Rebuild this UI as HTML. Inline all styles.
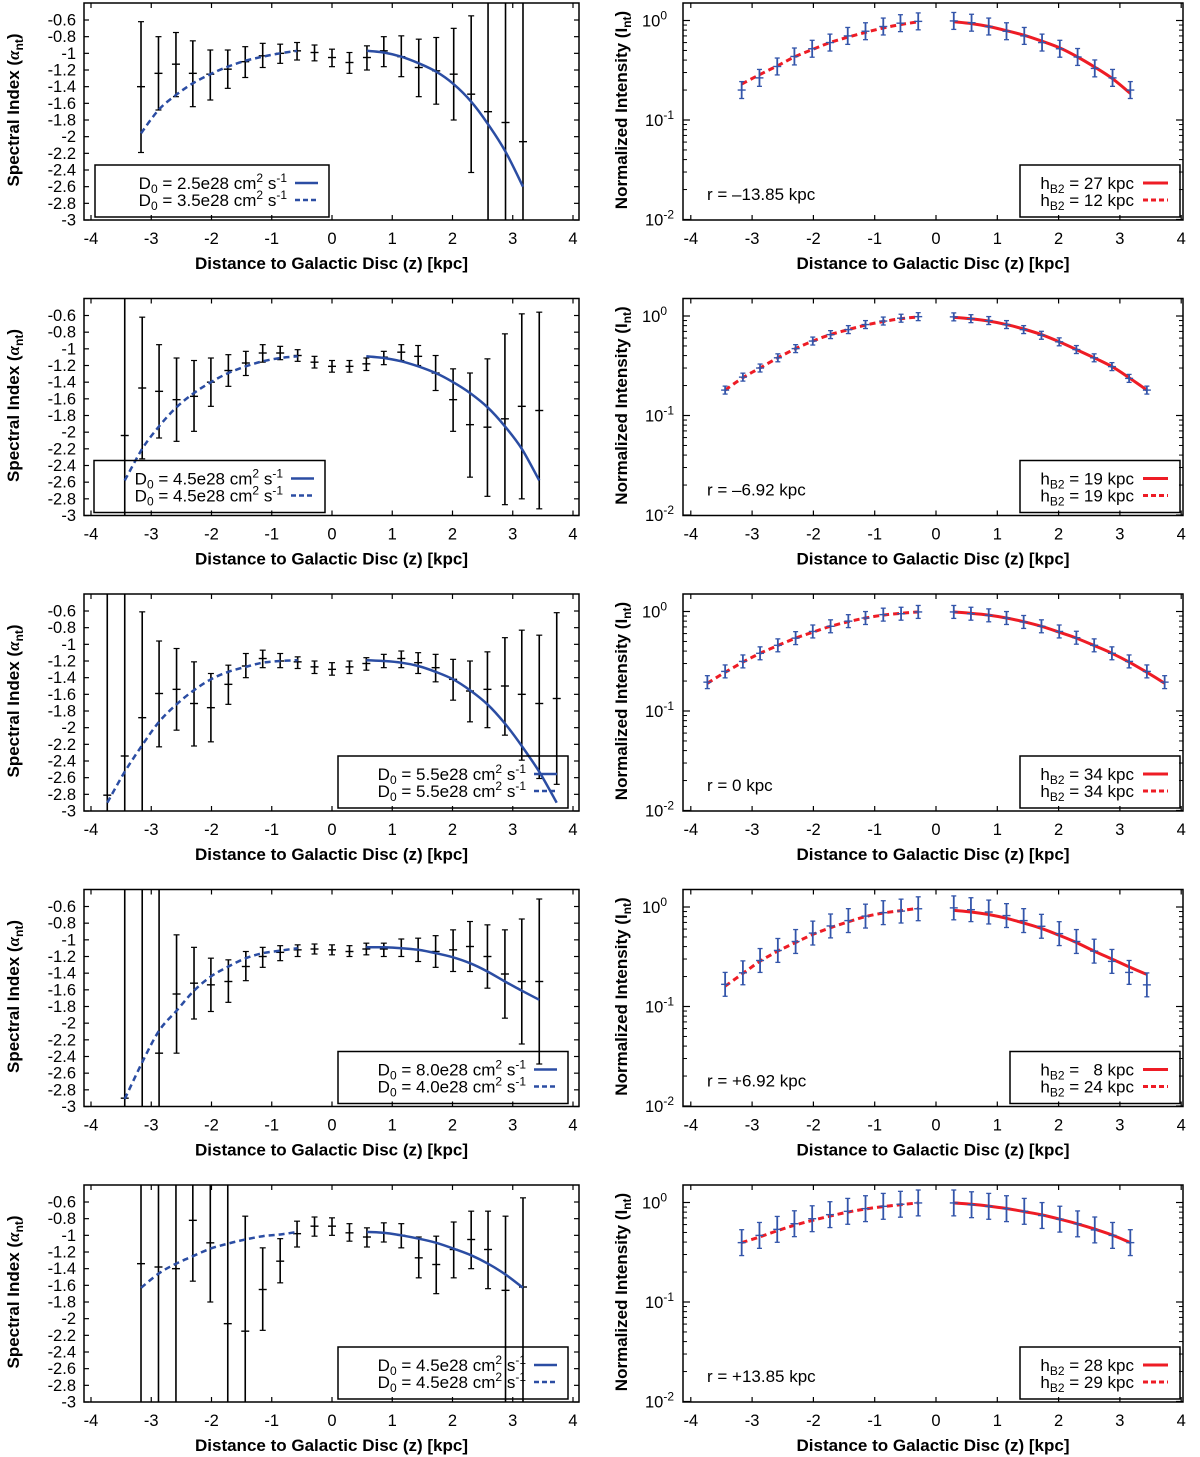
<!DOCTYPE html>
<html><head><meta charset="utf-8"><style>
html,body{margin:0;padding:0;background:#fff;}
svg{display:block;font-family:"Liberation Sans",sans-serif;}
</style></head><body>
<svg id="fig" width="1200" height="1457" viewBox="0 0 1200 1457" xmlns="http://www.w3.org/2000/svg"></svg>
<script>
// ---------- data ----------
const zL23 = [-3.17,-2.88,-2.59,-2.31,-2.02,-1.73,-1.44,-1.15,-0.86,-0.58,-0.29,0,0.29,0.58,0.86,1.15,1.44,1.73,2.02,2.31,2.59,2.88,3.17];
const zL25 = [-3.44,-3.15,-2.87,-2.58,-2.29,-2.01,-1.72,-1.43,-1.15,-0.86,-0.57,-0.29,0,0.29,0.57,0.86,1.15,1.43,1.72,2.01,2.29,2.58,2.87,3.15,3.44];
const zL27 = [-3.73,-3.44,-3.15,-2.87,-2.58,-2.29,-2.01,-1.72,-1.43,-1.15,-0.86,-0.57,-0.29,0,0.29,0.57,0.86,1.15,1.43,1.72,2.01,2.29,2.58,2.87,3.15,3.44,3.73];
const fitNeg10 = [-3.17,-2.88,-2.59,-2.31,-2.02,-1.73,-1.44,-1.15,-0.86,-0.58];
const fitPos10 = [0.58,0.86,1.15,1.44,1.73,2.02,2.31,2.59,2.88,3.17];
const fitNeg11 = [-3.44,-3.15,-2.87,-2.58,-2.29,-2.01,-1.72,-1.43,-1.15,-0.86,-0.57];
const fitPos11 = [0.57,0.86,1.15,1.43,1.72,2.01,2.29,2.58,2.87,3.15,3.44];
const fitNeg12 = [-3.73,-3.44,-3.15,-2.87,-2.58,-2.29,-2.01,-1.72,-1.43,-1.15,-0.86,-0.57];
const fitPos12 = [0.57,0.86,1.15,1.43,1.72,2.01,2.29,2.58,2.87,3.15,3.44,3.73];

const a1 = [-1.40,-1.24,-1.13,-1.24,-1.25,-1.19,-1.10,-1.03,-1.00,-0.97,-0.99,-1.05,-1.11,-1.05,-0.97,-1.04,-1.17,-1.21,-1.25,-1.49,-1.70,-1.83,-2.06];
const a1hi = [-0.62,-0.80,-0.75,-0.85,-0.96,-0.96,-0.92,-0.88,-0.89,-0.87,-0.90,-0.95,-0.99,-0.91,-0.80,-0.79,-0.83,-0.81,-0.70,-0.55,-0.3,-0.3,-0.3];
const a1lo = [-2.19,-1.68,-1.52,-1.64,-1.56,-1.42,-1.29,-1.17,-1.12,-1.08,-1.09,-1.16,-1.24,-1.20,-1.16,-1.28,-1.52,-1.61,-1.80,-2.43,-3.3,-3.3,-3.3];
const a1dash = [-1.96,-1.68,-1.50,-1.36,-1.25,-1.16,-1.09,-1.04,-1.00,-0.97];
const a1solid = [-0.97,-0.99,-1.04,-1.12,-1.22,-1.37,-1.58,-1.85,-2.18,-2.60];

const a2 = [-2.04,-1.47,-1.51,-1.61,-1.57,-1.40,-1.26,-1.17,-1.05,-1.05,-1.08,-1.16,-1.21,-1.21,-1.18,-1.10,-1.04,-1.09,-1.29,-1.61,-1.91,-1.94,-1.84,-1.69,-1.74];
const a2hi = [-0.3,-0.62,-0.95,-1.11,-1.14,-1.11,-1.07,-1.03,-0.95,-0.97,-1.01,-1.09,-1.14,-1.14,-1.11,-1.03,-0.95,-0.96,-1.08,-1.24,-1.29,-1.12,-0.82,-0.58,-0.56];
const a2lo = [-3.3,-2.32,-2.07,-2.11,-1.99,-1.69,-1.45,-1.32,-1.16,-1.13,-1.15,-1.23,-1.28,-1.28,-1.26,-1.19,-1.14,-1.20,-1.50,-1.99,-2.54,-2.77,-2.87,-2.80,-2.92];
const a2dash = [-2.58,-2.20,-1.93,-1.70,-1.53,-1.40,-1.29,-1.21,-1.15,-1.11,-1.09];
const a2solid = [-1.09,-1.11,-1.15,-1.21,-1.29,-1.40,-1.53,-1.70,-1.93,-2.20,-2.58];

const a3 = [-2.81,-2.34,-1.88,-1.59,-1.54,-1.71,-1.76,-1.48,-1.26,-1.17,-1.20,-1.21,-1.27,-1.30,-1.27,-1.23,-1.20,-1.17,-1.22,-1.28,-1.42,-1.56,-1.54,-1.50,-1.60,-1.71,-1.65];
const a3hi = [-0.3,-0.3,-0.61,-0.96,-1.05,-1.21,-1.35,-1.25,-1.11,-1.07,-1.11,-1.15,-1.20,-1.22,-1.20,-1.16,-1.12,-1.08,-1.10,-1.12,-1.18,-1.20,-1.09,-0.92,-0.83,-0.89,-0.62];
const a3lo = [-3.3,-3.3,-3.3,-2.23,-2.03,-2.22,-2.17,-1.72,-1.40,-1.28,-1.28,-1.29,-1.35,-1.37,-1.35,-1.31,-1.28,-1.28,-1.35,-1.45,-1.67,-1.93,-2.00,-2.09,-2.39,-2.61,-2.68];
const a3dash = [-2.90,-2.53,-2.21,-1.93,-1.72,-1.55,-1.42,-1.33,-1.27,-1.22,-1.20,-1.19];
const a3solid = [-1.19,-1.20,-1.22,-1.26,-1.33,-1.42,-1.55,-1.72,-1.95,-2.22,-2.53,-2.90];

const a4 = [-2.90,-3.1,-2.36,-1.65,-1.52,-1.54,-1.50,-1.32,-1.20,-1.15,-1.12,-1.11,-1.12,-1.14,-1.11,-1.11,-1.10,-1.12,-1.14,-1.12,-1.08,-1.20,-1.41,-1.50,-1.50];
const a4hi = [-0.3,-0.3,-0.3,-0.94,-1.09,-1.22,-1.24,-1.14,-1.09,-1.07,-1.06,-1.05,-1.06,-1.07,-1.04,-1.04,-0.99,-0.98,-0.95,-0.88,-0.78,-0.82,-0.88,-0.75,-0.51];
const a4lo = [-3.3,-3.3,-3.3,-2.36,-1.95,-1.86,-1.75,-1.49,-1.33,-1.25,-1.20,-1.17,-1.18,-1.20,-1.18,-1.20,-1.20,-1.26,-1.33,-1.38,-1.38,-1.58,-1.94,-2.25,-2.49];
const a4dash = [-2.91,-2.47,-2.09,-1.85,-1.61,-1.44,-1.32,-1.22,-1.16,-1.13,-1.10];
const a4solid = [-1.09,-1.09,-1.10,-1.12,-1.16,-1.21,-1.28,-1.38,-1.50,-1.61,-1.72];

const a5 = [-1.34,-1.38,-1.40,-0.82,-1.09,-2.06,-2.15,-1.65,-1.31,-0.98,-0.89,-0.89,-0.97,-1.02,-0.97,-1.00,-1.27,-1.35,-1.17,-1.05,-1.17,-1.66,-1.62];
const a5hi = [-0.3,-0.3,-0.3,-0.3,-0.3,-0.3,-0.77,-1.15,-1.04,-0.83,-0.78,-0.79,-0.86,-0.91,-0.85,-0.86,-1.02,-1.01,-0.84,-0.71,-0.71,-0.77,-0.55];
const a5lo = [-3.3,-3.3,-3.3,-1.55,-1.80,-3.3,-3.3,-2.14,-1.57,-1.14,-1.01,-1.00,-1.07,-1.14,-1.08,-1.15,-1.51,-1.70,-1.51,-1.40,-1.64,-3.3,-3.3];
const a5dash = [-1.63,-1.46,-1.34,-1.25,-1.16,-1.10,-1.05,-1.01,-0.99,-0.96];
const a5solid = [-0.96,-0.97,-1.00,-1.04,-1.09,-1.16,-1.24,-1.34,-1.47,-1.63];

const zR11n = [-3.17,-2.88,-2.59,-2.31,-2.02,-1.73,-1.44,-1.15,-0.86,-0.58,-0.29];
const zR11p = [0.29,0.58,0.86,1.15,1.44,1.73,2.02,2.31,2.59,2.88,3.17];
const zR12n = [-3.44,-3.15,-2.87,-2.58,-2.29,-2.01,-1.72,-1.43,-1.15,-0.86,-0.57,-0.29];
const zR12p = [0.29,0.57,0.86,1.15,1.43,1.72,2.01,2.29,2.58,2.87,3.15,3.44];
const zR13n = [-3.73,-3.44,-3.15,-2.87,-2.58,-2.29,-2.01,-1.72,-1.43,-1.15,-0.86,-0.57,-0.29];
const zR13p = [0.29,0.57,0.86,1.15,1.43,1.72,2.01,2.29,2.58,2.87,3.15,3.44,3.73];

const i1n = [0.20,0.265,0.345,0.435,0.52,0.60,0.70,0.78,0.87,0.94,0.98];
const i1p = [0.99,0.95,0.87,0.78,0.70,0.60,0.52,0.43,0.33,0.265,0.20];
const i1fitn = [0.23,0.285,0.35,0.43,0.51,0.60,0.68,0.76,0.84,0.91,0.97];
const i1fitp = [0.97,0.93,0.87,0.79,0.71,0.62,0.53,0.43,0.34,0.26,0.185];
const i2n = [0.18,0.243,0.30,0.38,0.47,0.56,0.65,0.73,0.82,0.89,0.95,0.985];
const i2p = [0.98,0.94,0.90,0.82,0.73,0.64,0.55,0.46,0.38,0.31,0.236,0.18];
const i2fitn = [0.18,0.24,0.30,0.38,0.47,0.56,0.65,0.73,0.81,0.88,0.94,0.98];
const i2fitp = [0.97,0.94,0.89,0.82,0.74,0.65,0.55,0.46,0.38,0.31,0.24,0.18];
const i3n = [0.195,0.25,0.315,0.38,0.457,0.54,0.63,0.71,0.80,0.86,0.93,0.95,0.99];
const i3p = [0.99,0.95,0.915,0.86,0.785,0.71,0.63,0.545,0.457,0.38,0.315,0.25,0.195];
const i3fitn = [0.19,0.245,0.31,0.38,0.455,0.54,0.62,0.71,0.79,0.86,0.92,0.96,0.99];
const i3fitp = [0.99,0.96,0.92,0.86,0.79,0.71,0.62,0.54,0.455,0.38,0.31,0.245,0.19];
const i4n = [0.167,0.218,0.29,0.366,0.45,0.547,0.645,0.73,0.81,0.877,0.91,0.96];
const i4p = [0.98,0.94,0.89,0.82,0.73,0.64,0.54,0.45,0.36,0.284,0.22,0.165];
const i4fitn = [0.16,0.215,0.285,0.36,0.44,0.53,0.62,0.71,0.80,0.87,0.92,0.97];
const i4fitp = [0.925,0.89,0.84,0.77,0.69,0.61,0.52,0.44,0.36,0.30,0.25,0.21];
const i5n = [0.395,0.467,0.537,0.612,0.687,0.755,0.815,0.867,0.915,0.96,0.99];
const i5p = [0.99,0.95,0.915,0.867,0.815,0.74,0.68,0.61,0.53,0.467,0.395];
const i5fitn = [0.395,0.45,0.52,0.59,0.66,0.73,0.80,0.86,0.91,0.95,0.99];
const i5fitp = [0.99,0.96,0.92,0.87,0.81,0.75,0.68,0.61,0.54,0.47,0.395];
const iErrDex = [0.085,0.04,0.065,0.12,0.13];

const leftTickLabels = ["-0.6","-0.8","-1","-1.2","-1.4","-1.6","-1.8","-2","-2.2","-2.4","-2.6","-2.8","-3"];
const leftTickValues = [-0.6,-0.8,-1,-1.2,-1.4,-1.6,-1.8,-2,-2.2,-2.4,-2.6,-2.8,-3];
const xTickValues = [-4,-3,-2,-1,0,1,2,3,4];
const leftLegend1 = ["2.5e28","4.5e28","5.5e28","8.0e28","4.5e28"];
const leftLegend2 = ["3.5e28","4.5e28","5.5e28","4.0e28","4.5e28"];
const rightLegend1 = ["27","19","34","\u00a0\u00a08","28"];
const rightLegend2 = ["12","19","34","24","29"];
const rLabels = ["r = \u201313.85 kpc","r = \u20136.92 kpc","r = 0 kpc","r = +6.92 kpc","r = +13.85 kpc"];

// ---------- drawing ----------
const NS = "http://www.w3.org/2000/svg";
const svg = document.getElementById("fig");
const ROW = 295.5;
const TICKFS = 16.5, LEGFS = 17, TITLEFS = 17, SUBFS = 12;
function mk(tag, attrs, parent){ const e=document.createElementNS(NS,tag); for(const k in attrs) e.setAttribute(k,attrs[k]); (parent||svg).appendChild(e); return e; }
function spline(pts){
  if(pts.length<2) return "";
  let d="M"+pts[0][0].toFixed(1)+","+pts[0][1].toFixed(1);
  for(let i=0;i<pts.length-1;i++){
    const p0=pts[Math.max(0,i-1)],p1=pts[i],p2=pts[i+1],p3=pts[Math.min(pts.length-1,i+2)];
    const c1=[p1[0]+(p2[0]-p0[0])/6,p1[1]+(p2[1]-p0[1])/6], c2=[p2[0]-(p3[0]-p1[0])/6,p2[1]-(p3[1]-p1[1])/6];
    d+=" C"+c1.map(v=>v.toFixed(1))+" "+c2.map(v=>v.toFixed(1))+" "+p2[0].toFixed(1)+","+p2[1].toFixed(1);
  }
  return d;
}

const leftPanels = [
  {z:zL23,c:a1,hi:a1hi,lo:a1lo,dz:fitNeg10,dv:a1dash,sz:fitPos10,sv:a1solid,leg:[95,329]},
  {z:zL25,c:a2,hi:a2hi,lo:a2lo,dz:fitNeg11,dv:a2dash,sz:fitPos11,sv:a2solid,leg:[94,325]},
  {z:zL27,c:a3,hi:a3hi,lo:a3lo,dz:fitNeg12,dv:a3dash,sz:fitPos12,sv:a3solid,leg:[338,568]},
  {z:zL25,c:a4,hi:a4hi,lo:a4lo,dz:fitNeg11,dv:a4dash,sz:fitPos11,sv:a4solid,leg:[338,568]},
  {z:zL23,c:a5,hi:a5hi,lo:a5lo,dz:fitNeg10,dv:a5dash,sz:fitPos10,sv:a5solid,leg:[338,568]}
];
const rightPanels = [
  {zn:zR11n,zp:zR11p,vn:i1n,vp:i1p,fn:i1fitn,fp:i1fitp,leg:[1020,1180]},
  {zn:zR12n,zp:zR12p,vn:i2n,vp:i2p,fn:i2fitn,fp:i2fitp,leg:[1020,1180]},
  {zn:zR13n,zp:zR13p,vn:i3n,vp:i3p,fn:i3fitn,fp:i3fitp,leg:[1020,1180]},
  {zn:zR12n,zp:zR12p,vn:i4n,vp:i4p,fn:i4fitn,fp:i4fitp,leg:[1010,1180]},
  {zn:zR11n,zp:zR11p,vn:i5n,vp:i5p,fn:i5fitn,fp:i5fitp,leg:[1020,1180]}
];

const BLUE="#2b4da3", RED="#ee1c25", EBLUE="#3355aa";
const FT=3, FB=220;

function xTicksAndLabels(g, off, frameL, frameR, xs){
  xTickValues.forEach(v=>{
    const x=xs(v);
    const t1=mk("line",{x1:x,y1:off+FB,x2:x,y2:off+FB-5,stroke:"#000","stroke-width":1.2},g);
     
    mk("line",{x1:x,y1:off+FT,x2:x,y2:off+FT+5,stroke:"#000","stroke-width":1.2},g);
    const t=mk("text",{x:x,y:off+244,"font-size":TICKFS,"text-anchor":"middle"},g);
    t.textContent=String(v);
     
  });
  const tt=mk("text",{x:(frameL+frameR)/2,y:off+269,"font-size":TITLEFS,"font-weight":"bold","text-anchor":"middle"},g);
  tt.textContent="Distance to Galactic Disc (z) [kpc]";
   
}

leftPanels.forEach((p,r)=>{
  const off=r*ROW;
  const g=mk("g",{});
  
  
  const fL=84, fR=579;
  const xs=z=>332+z*60.25;
  const ys=v=>off+FB+(v+3)*(-83.33);
  const cid="clipL"+r;
  const cp=mk("clipPath",{id:cid},g); mk("rect",{x:fL,y:off+FT,width:fR-fL,height:FB-FT},cp);
  leftTickValues.forEach((v,i)=>{
    const y=ys(v);
    mk("line",{x1:fL,y1:y,x2:fL+5,y2:y,stroke:"#000","stroke-width":1.2},g);
    mk("line",{x1:fR,y1:y,x2:fR-5,y2:y,stroke:"#000","stroke-width":1.2},g);
    const t=mk("text",{x:76,y:y+5.5,"font-size":TICKFS,"text-anchor":"end"},g);
    t.textContent=leftTickLabels[i];
     
  });
  xTicksAndLabels(g,off,fL,fR,xs);
  const yt=mk("text",{x:0,y:0,"font-size":TITLEFS,"font-weight":"bold","text-anchor":"middle",transform:`translate(19,${off+110}) rotate(-90)`},g);
  yt.innerHTML='Spectral Index (<tspan font-style="italic" font-family="Liberation Serif, serif">α</tspan><tspan font-size="12" dy="4">nt</tspan><tspan dy="-4">)</tspan>';
   
  const pg=mk("g",{"clip-path":`url(#${cid})`},g);
  p.z.forEach((z,i)=>{
    const x=xs(z);
    const eb=mk("g",{},pg);
    
    
    mk("line",{x1:x,y1:ys(p.hi[i]),x2:x,y2:ys(p.lo[i]),stroke:"#000","stroke-width":1.6},eb);
    mk("line",{x1:x-3,y1:ys(p.hi[i]),x2:x+3,y2:ys(p.hi[i]),stroke:"#000","stroke-width":1.2},eb);
    mk("line",{x1:x-3,y1:ys(p.lo[i]),x2:x+3,y2:ys(p.lo[i]),stroke:"#000","stroke-width":1.2},eb);
    mk("line",{x1:x-4,y1:ys(p.c[i]),x2:x+4,y2:ys(p.c[i]),stroke:"#000","stroke-width":1.4},eb);
  });
  const dp=mk("path",{d:spline(p.dz.map((z,i)=>[xs(z),ys(p.dv[i])])),fill:"none",stroke:BLUE,"stroke-width":2.5,"stroke-dasharray":"6,4"},pg);
   
  const sp=mk("path",{d:spline(p.sz.map((z,i)=>[xs(z),ys(p.sv[i])])),fill:"none",stroke:BLUE,"stroke-width":2.5},pg);
   
  const lg=mk("g",{},g);
   
  const [lx1,lx2]=p.leg;
  mk("rect",{x:lx1,y:off+165,width:lx2-lx1,height:52,fill:"none",stroke:"#000","stroke-width":1.5},lg);
  [[leftLegend1[r],false,183],[leftLegend2[r],true,200]].forEach(([val,dash,yy])=>{
    const t=mk("text",{x:lx2-42,y:off+yy+6,"font-size":LEGFS,"text-anchor":"end"},lg);
    t.innerHTML=`D<tspan font-size="${SUBFS}" dy="4">0</tspan><tspan dy="-4"> = ${val} cm</tspan><tspan font-size="${SUBFS}" dy="-7">2</tspan><tspan dy="7"> s</tspan><tspan font-size="${SUBFS}" dy="-7">-1</tspan>`;
     
    const a={x1:lx2-34,y1:off+yy,x2:lx2-11,y2:off+yy,stroke:BLUE,"stroke-width":2.5};
    if(dash) a["stroke-dasharray"]="5,3";
    mk("line",a,lg);
  });
  const fr=mk("rect",{x:fL,y:off+FT,width:fR-fL,height:FB-FT,fill:"none",stroke:"#000","stroke-width":1.5},g);
   
});

rightPanels.forEach((p,r)=>{
  const off=r*ROW;
  const g=mk("g",{});
  
  
  const fL=683, fR=1183;
  const xs=z=>936+z*61.3;
  const ys=v=>off+20.5-Math.log10(v)*99.5;
  const cid="clipR"+r;
  const cp=mk("clipPath",{id:cid},g); mk("rect",{x:fL,y:off+FT,width:fR-fL,height:FB-FT},cp);
  [0,-1,-2].forEach(e=>{
    const y=off+20.5-e*99.5;
    mk("line",{x1:fL,y1:y,x2:fL+7,y2:y,stroke:"#000","stroke-width":1.2},g);
    mk("line",{x1:fR,y1:y,x2:fR-7,y2:y,stroke:"#000","stroke-width":1.2},g);
    const t=mk("text",{x:e===0?667:674,y:y+6,"font-size":TICKFS,"text-anchor":"end"},g);
    t.innerHTML=`10<tspan font-size="${SUBFS}" dy="-7">${e}</tspan>`;
     
  });
  [-2,-1,0].forEach(e=>{
    for(let m=2;m<=9;m++){
      const y=off+20.5-(e+Math.log10(m))*99.5;
      if(y<off+FT) continue;
      mk("line",{x1:fL,y1:y,x2:fL+4,y2:y,stroke:"#000","stroke-width":1},g);
      mk("line",{x1:fR,y1:y,x2:fR-4,y2:y,stroke:"#000","stroke-width":1},g);
    }
  });
  xTicksAndLabels(g,off,fL,fR,xs);
  const yt=mk("text",{x:0,y:0,"font-size":TITLEFS,"font-weight":"bold","text-anchor":"middle",transform:`translate(627,${off+110}) rotate(-90)`},g);
  yt.innerHTML='Normalized Intensity (I<tspan font-size="12" dy="4">nt</tspan><tspan dy="-4">)</tspan>';
   
  const pg=mk("g",{"clip-path":`url(#${cid})`},g);
  const dp=mk("path",{d:spline(p.zn.map((z,i)=>[xs(z),ys(p.fn[i])])),fill:"none",stroke:RED,"stroke-width":3,"stroke-dasharray":"6,4"},pg);
   
  const sp=mk("path",{d:spline(p.zp.map((z,i)=>[xs(z),ys(p.fp[i])])),fill:"none",stroke:RED,"stroke-width":3},pg);
   
  const ed=iErrDex[r];
  [[p.zn,p.vn],[p.zp,p.vp]].forEach(([zz,vv])=>{
    zz.forEach((z,i)=>{
      const x=xs(z), v=vv[i];
      const yh=ys(v*Math.pow(10,ed)), yl=ys(v/Math.pow(10,ed)), yc=ys(v);
      const eb=mk("g",{},pg);
      
      
      mk("line",{x1:x,y1:yh,x2:x,y2:yl,stroke:EBLUE,"stroke-width":1.8},eb);
      mk("line",{x1:x-2.5,y1:yh,x2:x+2.5,y2:yh,stroke:EBLUE,"stroke-width":1.3},eb);
      mk("line",{x1:x-2.5,y1:yl,x2:x+2.5,y2:yl,stroke:EBLUE,"stroke-width":1.3},eb);
      mk("line",{x1:x-4,y1:yc,x2:x+4,y2:yc,stroke:EBLUE,"stroke-width":1.4},eb);
    });
  });
  const rl=mk("text",{x:707,y:off+200,"font-size":LEGFS},g);
  rl.textContent=rLabels[r];
   
  const lg=mk("g",{},g);
   
  const [lx1,lx2]=p.leg;
  mk("rect",{x:lx1,y:off+165,width:lx2-lx1,height:52,fill:"none",stroke:"#000","stroke-width":1.5},lg);
  [[rightLegend1[r],false,183],[rightLegend2[r],true,200]].forEach(([val,dash,yy])=>{
    const t=mk("text",{x:1134,y:off+yy+6,"font-size":LEGFS,"text-anchor":"end"},lg);
    t.innerHTML=`h<tspan font-size="${SUBFS}" dy="4">B2</tspan><tspan dy="-4" xml:space="preserve"> = ${val} kpc</tspan>`;
     
    const a={x1:1143,y1:off+yy,x2:1168,y2:off+yy,stroke:RED,"stroke-width":3};
    if(dash) a["stroke-dasharray"]="5,3";
    mk("line",a,lg);
  });
  const fr=mk("rect",{x:fL,y:off+FT,width:fR-fL,height:FB-FT,fill:"none",stroke:"#000","stroke-width":1.5},g);
   
});
</script>
</body></html>
